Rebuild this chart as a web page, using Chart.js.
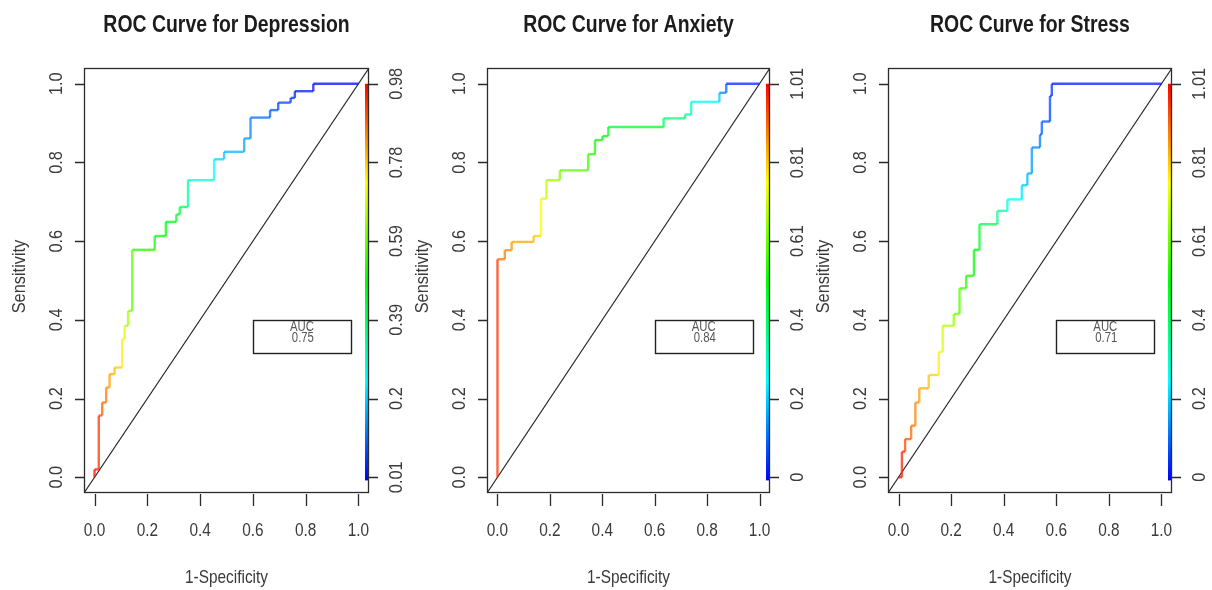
<!DOCTYPE html>
<html><head><meta charset="utf-8">
<script src="https://cdn.jsdelivr.net/npm/chart.js@4"></script>
<style>
html,body{margin:0;padding:0;background:#fff;width:1212px;height:590px;overflow:hidden}
.p{position:absolute;top:0;width:404px;height:590px}
canvas{display:block}
</style>
</head><body>
<div class="p" style="left:0"><canvas id="c1" width="404" height="590"></canvas></div>
<div class="p" style="left:404px"><canvas id="c2" width="404" height="590"></canvas></div>
<div class="p" style="left:808px"><canvas id="c3" width="404" height="590"></canvas></div>
<script>
// ---- data ----
const axisTicks = [0, 0.2, 0.4, 0.6, 0.8, 1.0];
const axisTickLabels = ['0.0', '0.2', '0.4', '0.6', '0.8', '1.0'];

const titles = ['ROC Curve for Depression', 'ROC Curve for Anxiety', 'ROC Curve for Stress'];
const aucValues = ['0.75', '0.84', '0.71'];

// Depression
const depFpr = [0,0,0.016,0.016,0.029,0.029,0.044,0.044,0.057,0.057,0.076,0.076,0.105,0.105,0.114,0.114,0.127,0.127,0.143,0.143,0.228,0.228,0.27,0.27,0.31,0.31,0.323,0.323,0.354,0.354,0.453,0.453,0.491,0.491,0.567,0.567,0.591,0.591,0.665,0.665,0.696,0.696,0.743,0.743,0.759,0.759,0.829,0.829,1.0];
const depTpr = [0,0.02,0.02,0.157,0.157,0.19,0.19,0.228,0.228,0.262,0.262,0.279,0.279,0.351,0.351,0.385,0.385,0.423,0.423,0.578,0.578,0.613,0.613,0.649,0.649,0.668,0.668,0.687,0.687,0.755,0.755,0.808,0.808,0.827,0.827,0.861,0.861,0.914,0.914,0.933,0.933,0.952,0.952,0.964,0.964,0.981,0.981,1.0,1.0];
const depCut = [0.98,0.96,0.95,0.91,0.90,0.88,0.87,0.85,0.84,0.82,0.81,0.79,0.78,0.73,0.72,0.68,0.67,0.63,0.62,0.54,0.52,0.50,0.49,0.48,0.47,0.45,0.44,0.42,0.41,0.30,0.28,0.22,0.21,0.19,0.18,0.16,0.15,0.12,0.11,0.10,0.09,0.08,0.07,0.06,0.05,0.04,0.03,0.02,0.01];
const depCutLabels = ['0.01', '0.2', '0.39', '0.59', '0.78', '0.98'];
const depCutRange = [0.01, 0.98];

// Anxiety
const anxFpr = [0,0,0.028,0.028,0.054,0.054,0.138,0.138,0.166,0.166,0.187,0.187,0.238,0.238,0.346,0.346,0.372,0.372,0.401,0.401,0.423,0.423,0.634,0.634,0.716,0.716,0.739,0.739,0.847,0.847,0.873,0.873,1.0];
const anxTpr = [0,0.554,0.554,0.577,0.577,0.598,0.598,0.613,0.613,0.708,0.708,0.755,0.755,0.780,0.780,0.821,0.821,0.857,0.857,0.867,0.867,0.890,0.890,0.912,0.912,0.922,0.922,0.954,0.954,0.977,0.977,1.0,1.0];
const anxCut = [1.01,0.91,0.89,0.88,0.87,0.86,0.83,0.81,0.80,0.73,0.72,0.67,0.65,0.61,0.58,0.55,0.54,0.52,0.51,0.50,0.49,0.48,0.45,0.40,0.38,0.36,0.34,0.28,0.24,0.16,0.12,0.08,0];
const anxCutLabels = ['0', '0.2', '0.4', '0.61', '0.81', '1.01'];
const anxCutRange = [0, 1.01];

// Stress
const strFpr = [0,0.013,0.013,0.025,0.025,0.048,0.048,0.064,0.064,0.079,0.079,0.115,0.115,0.153,0.153,0.168,0.168,0.21,0.21,0.232,0.232,0.257,0.257,0.287,0.287,0.308,0.308,0.376,0.376,0.414,0.414,0.469,0.469,0.49,0.49,0.507,0.507,0.538,0.538,0.545,0.545,0.576,0.576,0.583,0.583,1.0];
const strTpr = [0,0,0.065,0.065,0.097,0.097,0.131,0.131,0.19,0.19,0.226,0.226,0.26,0.26,0.319,0.319,0.385,0.385,0.415,0.415,0.48,0.48,0.512,0.512,0.578,0.578,0.643,0.643,0.677,0.677,0.706,0.706,0.742,0.742,0.772,0.772,0.838,0.838,0.871,0.871,0.904,0.904,0.969,0.969,1.0,1.0];
const strCut = [1.01,0.99,0.96,0.95,0.93,0.92,0.90,0.89,0.87,0.86,0.85,0.83,0.81,0.79,0.76,0.74,0.69,0.67,0.63,0.61,0.57,0.56,0.54,0.53,0.49,0.48,0.45,0.40,0.34,0.31,0.28,0.24,0.21,0.19,0.18,0.16,0.14,0.13,0.11,0.10,0.09,0.08,0.06,0.05,0.05,0];
const strCutLabels = ['0', '0.2', '0.4', '0.61', '0.81', '1.01'];
const strCutRange = [0, 1.01];

// ---- helpers ----
const SX = 0.81; // horizontal compression of horizontal text
const SR = 0.86; // length compression of rotated text
function hueColor(c, range, a) {
  let f = (c - range[0]) / (range[1] - range[0]);
  f = Math.max(0, Math.min(1, f));
  const h = (1 - f) * 240;
  return 'hsla(' + h.toFixed(1) + ',100%,50%,' + a + ')';
}
function txt(ctx, s, x, y, font, color, rot, align, base) {
  ctx.save();
  ctx.translate(x, y);
  if (rot) { ctx.scale(1, SR); ctx.rotate(-Math.PI / 2); }
  else ctx.scale(SX, 1);
  ctx.font = font;
  ctx.fillStyle = color;
  ctx.textAlign = align || 'center';
  ctx.textBaseline = base || 'middle';
  ctx.fillText(s, 0, 0);
  ctx.restore();
}

const rPlot = {
  id: 'rPlot',
  afterDraw(chart, args, o) {
    const ctx = chart.ctx;
    const a = chart.chartArea;
    const xs = chart.scales.x, ys = chart.scales.y;
    const axisCol = '#2b2b2b', textCol = '#3a3a3a';
    const F = '19px "Liberation Sans", Arial, sans-serif';
    ctx.save();
    // colour bar
    const y1 = ys.getPixelForValue(1.0), y0 = ys.getPixelForValue(-0.008);
    const g = ctx.createLinearGradient(0, y1, 0, y0);
    for (let i = 0; i <= 12; i++) {
      const f = i / 12;
      g.addColorStop(f, 'hsl(' + (f * 240) + ',100%,50%)');
    }
    ctx.fillStyle = g;
    ctx.fillRect(a.right - 4, y1, 3.5, y0 - y1);
    // box
    ctx.strokeStyle = axisCol;
    ctx.lineWidth = 1.3;
    ctx.strokeRect(a.left + 0.5, a.top + 0.5, a.right - a.left - 1, a.bottom - a.top - 1);
    // ticks
    ctx.beginPath();
    axisTicks.forEach(v => {
      const py = Math.round(ys.getPixelForValue(v)) + 0.5;
      ctx.moveTo(a.left - 9, py); ctx.lineTo(a.left, py);
      ctx.moveTo(a.right, py); ctx.lineTo(a.right + 9, py);
      const px = Math.round(xs.getPixelForValue(v)) + 0.5;
      ctx.moveTo(px, a.bottom + 1); ctx.lineTo(px, a.bottom + 13);
    });
    ctx.stroke();
    // tick labels
    axisTicks.forEach((v, i) => {
      const py = ys.getPixelForValue(v);
      txt(ctx, axisTickLabels[i], a.left - 27, py, F, textCol, true);
      txt(ctx, o.cutLabels[i], a.right + 28, py, F, textCol, true);
      txt(ctx, axisTickLabels[i], xs.getPixelForValue(v), a.bottom + 38, F, textCol, false);
    });
    const cx = (a.left + a.right) / 2;
    txt(ctx, '1-Specificity', cx, a.bottom + 85, F, textCol, false);
    txt(ctx, 'Sensitivity', a.left - 64, (a.top + a.bottom) / 2 - 4, F, textCol, true);
    txt(ctx, o.title, cx, 32, 'bold 24px "Liberation Sans", Arial, sans-serif', '#1c1c1c', false, 'center', 'alphabetic');
    // AUC legend
    const lx = xs.getPixelForValue(0.6), ly = ys.getPixelForValue(0.4);
    ctx.lineWidth = 1.4;
    ctx.strokeStyle = '#222';
    ctx.strokeRect(Math.round(lx) + 0.5, Math.round(ly) + 0.5, 98, 33);
    const lf = '14px "Liberation Sans", Arial, sans-serif';
    txt(ctx, 'AUC', lx + 49, ly + 7, lf, '#555', false);
    txt(ctx, o.auc, lx + 50, ly + 18, lf, '#555', false);
    ctx.restore();
  }
};

function makeChart(id, fpr, tpr, cut, range, cutLabels, title, auc, pad) {
  const pts = fpr.map((x, i) => ({x: x, y: tpr[i]}));
  return new Chart(document.getElementById(id), {
    type: 'line',
    data: {
      datasets: [
        {
          data: pts,
          borderWidth: 2.4,
          pointRadius: 0,
          tension: 0,
          fill: false,
          borderColor: hueColor(cut[0], range, 0.75),
          segment: {
            borderColor: c => hueColor((cut[c.p0DataIndex] + cut[c.p1DataIndex]) / 2, range, 0.75)
          }
        },
        {
          data: [{x: -0.04, y: -0.04}, {x: 1.04, y: 1.04}],
          borderColor: '#222',
          borderWidth: 1.1,
          pointRadius: 0,
          fill: false
        }
      ]
    },
    options: {
      responsive: false,
      animation: false,
      events: [],
      layout: {padding: pad},
      scales: {
        x: {type: 'linear', min: -0.04, max: 1.04, display: false},
        y: {type: 'linear', min: -0.04, max: 1.04, display: false}
      },
      plugins: {
        legend: {display: false},
        tooltip: {enabled: false},
        rPlot: {cutLabels: cutLabels, title: title, auc: auc}
      }
    },
    plugins: [rPlot]
  });
}

makeChart('c1', depFpr, depTpr, depCut, depCutRange, depCutLabels, titles[0], aucValues[0], {left: 84, right: 35, top: 68, bottom: 97});
makeChart('c2', anxFpr, anxTpr, anxCut, anxCutRange, anxCutLabels, titles[1], aucValues[1], {left: 83, right: 38, top: 68, bottom: 97});
makeChart('c3', strFpr, strTpr, strCut, strCutRange, strCutLabels, titles[2], aucValues[2], {left: 80, right: 40, top: 68, bottom: 97});
</script>
</body></html>
